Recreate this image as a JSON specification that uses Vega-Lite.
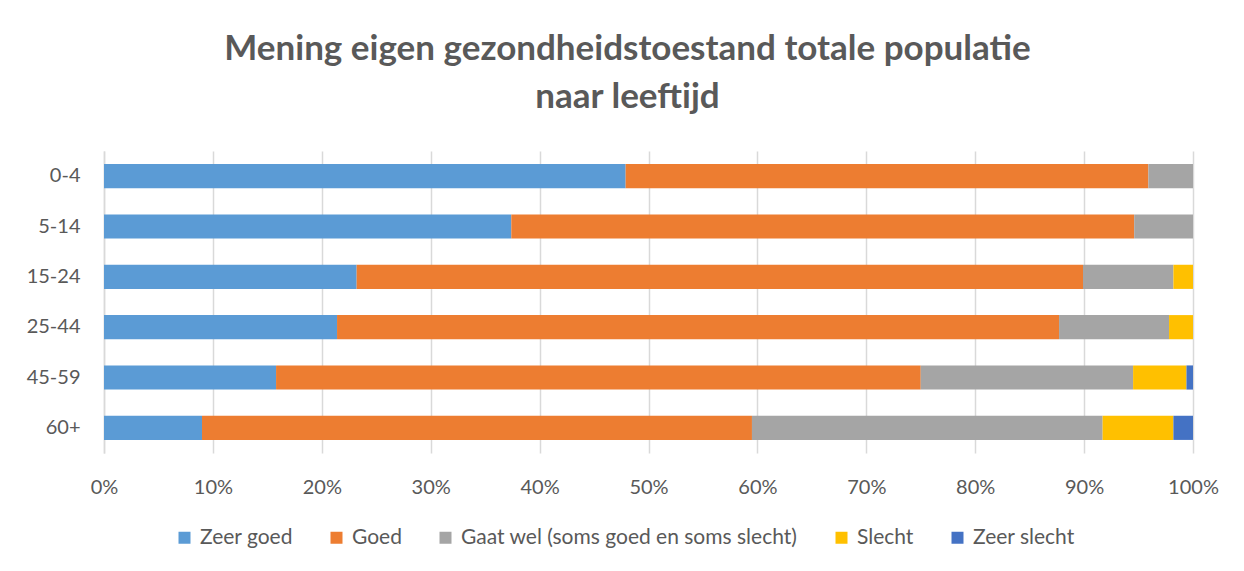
{
  "$schema": "https://vega.github.io/schema/vega-lite/v6.json",
  "autosize": "none",
  "width": 1089,
  "height": 302,
  "padding": {"left": 104, "top": 151, "right": 51, "bottom": 118},
  "background": "white",
  "config": {
    "font": "Lato",
    "view": {"stroke": null},
    "axis": {"labelFont": "Lato", "labelColor": "#595959", "labelFontSize": 20}
  },
  "title": {
    "text": ["Mening eigen gezondheidstoestand totale populatie", "naar leeftijd"],
    "anchor": "middle",
    "frame": "group",
    "dx": -21,
    "offset": 36,
    "font": "Lato",
    "fontSize": 35,
    "fontWeight": "bold",
    "color": "#595959",
    "lineHeight": 48
  },
  "data": {
    "values": [
      {"leeftijd": "0-4", "mening": "Zeer goed", "k": 1, "pct": 47.9},
      {"leeftijd": "0-4", "mening": "Goed", "k": 2, "pct": 48.0},
      {"leeftijd": "0-4", "mening": "Gaat wel (soms goed en soms slecht)", "k": 3, "pct": 4.1},
      {"leeftijd": "0-4", "mening": "Slecht", "k": 4, "pct": 0},
      {"leeftijd": "0-4", "mening": "Zeer slecht", "k": 5, "pct": 0},
      {"leeftijd": "5-14", "mening": "Zeer goed", "k": 1, "pct": 37.4},
      {"leeftijd": "5-14", "mening": "Goed", "k": 2, "pct": 57.2},
      {"leeftijd": "5-14", "mening": "Gaat wel (soms goed en soms slecht)", "k": 3, "pct": 5.4},
      {"leeftijd": "5-14", "mening": "Slecht", "k": 4, "pct": 0},
      {"leeftijd": "5-14", "mening": "Zeer slecht", "k": 5, "pct": 0},
      {"leeftijd": "15-24", "mening": "Zeer goed", "k": 1, "pct": 23.2},
      {"leeftijd": "15-24", "mening": "Goed", "k": 2, "pct": 66.7},
      {"leeftijd": "15-24", "mening": "Gaat wel (soms goed en soms slecht)", "k": 3, "pct": 8.3},
      {"leeftijd": "15-24", "mening": "Slecht", "k": 4, "pct": 1.8},
      {"leeftijd": "15-24", "mening": "Zeer slecht", "k": 5, "pct": 0},
      {"leeftijd": "25-44", "mening": "Zeer goed", "k": 1, "pct": 21.4},
      {"leeftijd": "25-44", "mening": "Goed", "k": 2, "pct": 66.3},
      {"leeftijd": "25-44", "mening": "Gaat wel (soms goed en soms slecht)", "k": 3, "pct": 10.1},
      {"leeftijd": "25-44", "mening": "Slecht", "k": 4, "pct": 2.2},
      {"leeftijd": "25-44", "mening": "Zeer slecht", "k": 5, "pct": 0},
      {"leeftijd": "45-59", "mening": "Zeer goed", "k": 1, "pct": 15.8},
      {"leeftijd": "45-59", "mening": "Goed", "k": 2, "pct": 59.2},
      {"leeftijd": "45-59", "mening": "Gaat wel (soms goed en soms slecht)", "k": 3, "pct": 19.5},
      {"leeftijd": "45-59", "mening": "Slecht", "k": 4, "pct": 4.9},
      {"leeftijd": "45-59", "mening": "Zeer slecht", "k": 5, "pct": 0.6},
      {"leeftijd": "60+", "mening": "Zeer goed", "k": 1, "pct": 9.0},
      {"leeftijd": "60+", "mening": "Goed", "k": 2, "pct": 50.5},
      {"leeftijd": "60+", "mening": "Gaat wel (soms goed en soms slecht)", "k": 3, "pct": 32.2},
      {"leeftijd": "60+", "mening": "Slecht", "k": 4, "pct": 6.5},
      {"leeftijd": "60+", "mening": "Zeer slecht", "k": 5, "pct": 1.8}
    ]
  },
  "mark": {"type": "bar"},
  "encoding": {
    "y": {
      "field": "leeftijd",
      "type": "nominal",
      "sort": ["0-4", "5-14", "15-24", "25-44", "45-59", "60+"],
      "scale": {"paddingInner": 0.52, "paddingOuter": 0.26},
      "axis": {
        "title": null,
        "ticks": false,
        "domain": true,
        "domainColor": "#d9d9d9",
        "domainWidth": 1.5,
        "labelPadding": 24,
        "grid": false
      }
    },
    "x": {
      "field": "pct",
      "type": "quantitative",
      "stack": "normalize",
      "scale": {"domain": [0, 1], "nice": false},
      "axis": {
        "title": null,
        "format": ".0%",
        "values": [0, 0.1, 0.2, 0.3, 0.4, 0.5, 0.6, 0.7, 0.8, 0.9, 1],
        "ticks": false,
        "domain": false,
        "grid": true,
        "gridColor": "#d9d9d9",
        "gridWidth": 1.5,
        "labelFlush": false,
        "labelOverlap": false,
        "labelPadding": 24
      }
    },
    "color": {
      "field": "mening",
      "type": "nominal",
      "scale": {
        "domain": ["Zeer goed", "Goed", "Gaat wel (soms goed en soms slecht)", "Slecht", "Zeer slecht"],
        "range": ["#5B9BD5", "#ED7D31", "#A5A5A5", "#FFC000", "#4472C4"]
      },
      "legend": {
        "title": null,
        "orient": "none",
        "direction": "horizontal",
        "legendX": 70,
        "legendY": 376,
        "symbolType": "square",
        "symbolSize": 144,
        "symbolStrokeWidth": 0,
        "labelFont": "Lato",
        "labelFontSize": 21,
        "labelLimit": 600,
        "labelColor": "#595959",
        "labelOffset": 5,
        "columnPadding": 33
      }
    },
    "order": {"field": "k", "type": "quantitative"}
  }
}
